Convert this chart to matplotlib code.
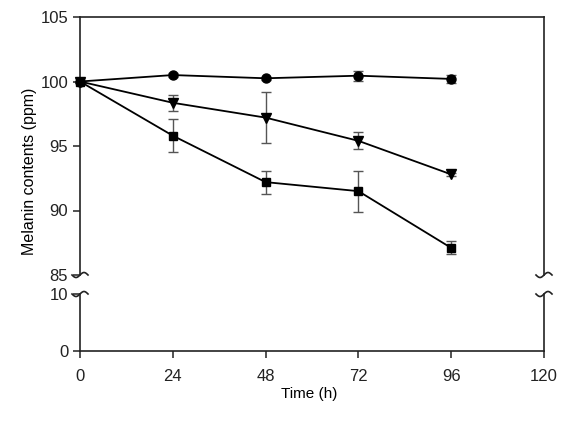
import numpy as np
import matplotlib.pyplot as plt

plt.rcParams['font.family'] = ['Liberation Sans', 'DejaVu Sans']

# Data
time_h = [0, 24, 48, 72, 96]
circle_vals = [100.0, 100.5, 100.25, 100.45, 100.2]
circle_err = [0.0, 0.15, 0.1, 0.4, 0.3]
triangle_vals = [100.0, 98.35, 97.2, 95.4, 92.8]
triangle_err = [0.0, 0.6, 2.0, 0.65, 0.1]
square_vals = [100.0, 95.8, 92.2, 91.5, 87.1]
square_err = [0.0, 1.3, 0.9, 1.6, 0.5]

x_ticks = [0, 24, 48, 72, 96, 120]
upper_ticks = [85, 90, 95, 100, 105]
lower_ticks = [0, 10]

W, H = 574, 422
fig = plt.figure(figsize=(W / 100, H / 100), dpi=100)

left, right = 80, 544
top, brk_hi, brk_lo, bottom = 17, 275, 294, 351

ax_up = fig.add_axes([left / W, (H - brk_hi) / H, (right - left) / W, (brk_hi - top) / H])
ax_lo = fig.add_axes([left / W, (H - bottom) / H, (right - left) / W, (bottom - brk_lo) / H])

series = [
    (circle_vals, circle_err, 'o', 6.5),
    (triangle_vals, triangle_err, 'v', 7),
    (square_vals, square_err, 's', 6),
]
for vals, err, mk, ms in series:
    ax_up.errorbar(time_h, vals, yerr=err, fmt='-', color='black', lw=1.3,
                   marker=mk, ms=ms, mfc='black', mec='black',
                   ecolor='#555555', elinewidth=1.0, capsize=3.5, capthick=1.0,
                   clip_on=False, zorder=3)

for ax in (ax_up, ax_lo):
    ax.set_xlim(0, 120)
    for s in ax.spines.values():
        s.set_linewidth(1.2)
        s.set_color('#222222')
    ax.tick_params(direction='out', length=5, width=1.1, labelsize=12,
                   colors='#222222', right=False, top=False)

ax_up.set_ylim(85, 105)
ax_up.set_yticks(upper_ticks)
ax_up.spines['bottom'].set_visible(False)
ax_up.tick_params(axis='x', bottom=False, labelbottom=False)

ax_lo.set_ylim(0, 10)
ax_lo.set_yticks(lower_ticks)
ax_lo.spines['top'].set_visible(False)
ax_lo.set_xticks(x_ticks)
ax_lo.tick_params(axis='x', pad=8)

# squiggly break marks on both side spines
t = np.linspace(-1, 1, 40)
for px in (left, right):
    for py in (brk_hi, brk_lo):
        xs = (px + 8 * t) / W
        ys = (H - py + 2.5 * np.sin(np.pi * t)) / H
        fig.add_artist(plt.Line2D(xs, ys, color='#222222', lw=1.2,
                                  transform=fig.transFigure))

fig.text(30 / W, (H - 171) / H, 'Melanin contents (ppm)', rotation=90,
         ha='center', va='center', fontsize=11.5)
fig.text(309 / W, (H - 394) / H, 'Time (h)', ha='center', va='center',
         fontsize=11)

fig.savefig('out.png', dpi=100)
